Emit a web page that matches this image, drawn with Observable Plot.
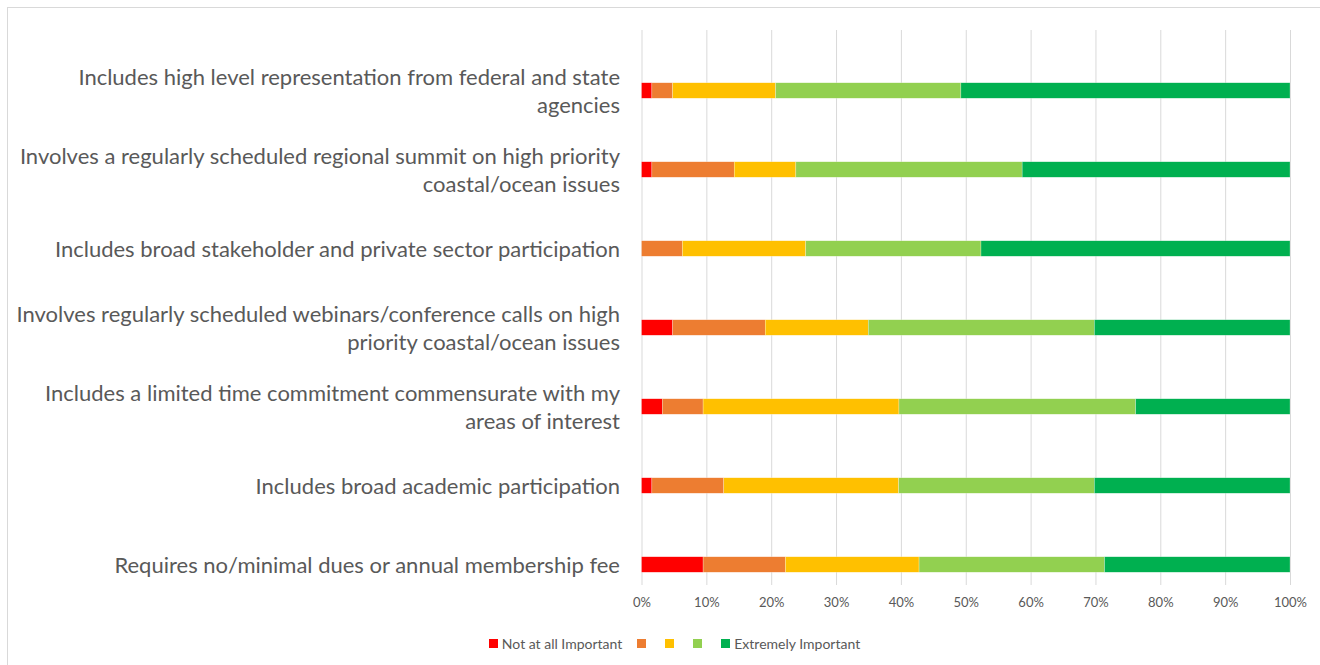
<!DOCTYPE html>
<html>
<head>
<meta charset="utf-8">
<script src="https://cdn.jsdelivr.net/npm/d3@7"></script>
<script src="https://cdn.jsdelivr.net/npm/@observablehq/plot@0.6"></script>
<style>
  html, body { margin: 0; padding: 0; background: #fff; }
  #wrap { position: relative; width: 1320px; height: 665px; overflow: hidden; font-family: Lato, "Open Sans", sans-serif; }
  #frame { position: absolute; left: 7px; top: 7px; width: 1330px; height: 680px; border: 1px solid #d9d9d9; box-sizing: border-box; }
  #chart { position: absolute; left: 0; top: 0; }
  #legend { position: absolute; top: 633px; left: 0; width: 1320px; display: flex; justify-content: center; padding-left: 44px; box-sizing: border-box; font-size: 14px; color: #595959; }
  .item { display: flex; align-items: center; margin-right: 15px; height: 20px; }
  .sw { width: 9px; height: 9px; margin-right: 4px; }
</style>
</head>
<body>
<div id="wrap">
  <div id="frame"></div>
  <div id="chart"></div>
  <div id="legend"></div>
</div>
<script>
// Categories, top to bottom
const categories = [
  "Includes high level representation from federal and state\nagencies",
  "Involves a regularly scheduled regional summit on high priority\ncoastal/ocean issues",
  "Includes broad stakeholder and private sector participation",
  "Involves regularly scheduled webinars/conference calls on high\npriority coastal/ocean issues",
  "Includes a limited time commitment commensurate with my\nareas of interest",
  "Includes broad academic participation",
  "Requires no/minimal dues or annual membership fee"
];
// Response levels (legend labels; middle three are unlabeled)
const levels = ["Not at all Important", "Level 2", "Level 3", "Level 4", "Extremely Important"];
const legendLabels = ["Not at all Important", "", "", "", "Extremely Important"];
const levelColors = ["#FF0000", "#ED7D31", "#FFC000", "#92D050", "#00B050"];
// Share of respondents (%) per level, in category order
const notAtAll  = [1.6, 1.6, 0.0, 4.8, 3.2, 1.6, 9.5];
const level2    = [3.2, 12.7, 6.3, 14.3, 6.3, 11.1, 12.7];
const level3    = [15.9, 9.5, 19.0, 15.9, 30.2, 27.0, 20.6];
const level4    = [28.6, 34.9, 27.0, 34.9, 36.5, 30.2, 28.6];
const extremely = [50.8, 41.3, 47.6, 30.2, 23.8, 30.2, 28.6];
const xTicks = [0, 0.1, 0.2, 0.3, 0.4, 0.5, 0.6, 0.7, 0.8, 0.9, 1];

const series = [notAtAll, level2, level3, level4, extremely];
const table = [];
categories.forEach((c, i) => {
  levels.forEach((lv, j) => table.push({category: c, level: lv, value: series[j][i]}));
});

const chart = Plot.plot({
  width: 1320,
  height: 620,
  marginLeft: 641.5,
  marginRight: 30,
  marginTop: 30,
  marginBottom: 35,
  style: {fontFamily: "Lato, 'Open Sans', sans-serif", color: "#595959", background: "transparent"},
  x: {domain: [0, 1], axis: null},
  y: {domain: categories, range: [49.25, 605.75], padding: 0, axis: null},
  color: {domain: levels, range: levelColors},
  marks: [
    Plot.ruleX(xTicks, {stroke: "#d9d9d9", strokeWidth: 1}),
    Plot.barX(table, Plot.stackX({
      x: "value", y: "category", fill: "level", offset: "normalize",
      insetTop: 31.75, insetBottom: 31.75, stroke: "#ffffff", strokeOpacity: 0.5, strokeWidth: 0.5
    })),
    Plot.text(categories, {
      y: d => d, text: d => d, frameAnchor: "left", textAnchor: "end", dx: -22, dy: -1,
      fontSize: 22, lineHeight: 1.3, fill: "#595959"
    }),
    Plot.text(xTicks, {
      x: d => d, text: d => d3.format(".0%")(d), frameAnchor: "bottom", dy: 21,
      fontSize: 13, fill: "#595959"
    })
  ]
});
document.getElementById("chart").appendChild(chart);

const legend = document.getElementById("legend");
levels.forEach((lv, j) => {
  const it = document.createElement("div");
  it.className = "item";
  const sw = document.createElement("div");
  sw.className = "sw";
  sw.style.background = levelColors[j];
  it.appendChild(sw);
  if (legendLabels[j]) {
    const t = document.createElement("span");
    t.textContent = legendLabels[j];
    it.appendChild(t);
  }
  legend.appendChild(it);
});
</script>
</body>
</html>
